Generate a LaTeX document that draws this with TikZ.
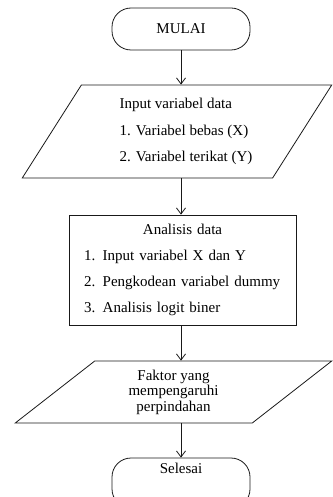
\documentclass[tikz,border=0pt]{standalone}
\usepackage{fontspec}
\setmainfont{Liberation Serif}
\usetikzlibrary{shapes.geometric, arrows.meta, positioning}
\definecolor{mydark}{RGB}{25,25,25}
\tikzset{
  terminal/.style={rectangle, draw=mydark, rounded corners=19pt,
    minimum width=138pt, line width=0.8pt,
    font=\fontsize{15}{18}\selectfont},
  iobox/.style={trapezium, trapezium stretches=true, draw=mydark,
    line width=0.8pt, inner sep=0pt},
  procbox/.style={rectangle, draw=mydark, line width=0.8pt,
    minimum width=227pt, minimum height=110pt, inner xsep=15pt,
    text width=197pt, font=\fontsize{15}{26}\selectfont},
  arrow/.style={-{Straight Barb[length=6pt,width=9pt]}, line width=0.8pt, color=mydark}
}
\begin{document}
\begin{tikzpicture}[x=1pt, y=-1pt]
  \useasboundingbox (0,0) rectangle (332,497);
  \node[terminal, minimum height=42pt] (mulai) at (181,29) {MULAI};
  \node[iobox, trapezium left angle=55, trapezium right angle=125,
    minimum width=310pt, minimum height=93pt, align=left,
    font=\fontsize{15}{26.5}\selectfont] (input) at (177,131.5)
    {\hspace*{18pt}Input variabel data\\\hspace*{18pt}1. Variabel bebas (X)\\\hspace*{18pt}2. Variabel terikat (Y)};
  \node[procbox] (analisis) at (182.5,270)
    {{\centering Analisis data\par}\raggedright
     1. Input variabel X dan Y\\2. Pengkodean variabel dummy\\3. Analisis logit biner};
  \node[iobox, trapezium left angle=44.5, trapezium right angle=135.5,
    minimum width=317pt, minimum height=62pt, align=center,
    font=\fontsize{15}{15.5}\selectfont] (faktor) at (173.5,392)
    {Faktor yang\\mempengaruhi\\perpindahan};
  \node[terminal, minimum height=50pt, text height=10pt, text depth=30pt] (selesai) at (181,483) {Selesai};
  \draw[arrow] (mulai.south) -- (mulai.south |- input.north);
  \draw[arrow] (mulai.south |- input.south) -- (mulai.south |- analisis.north);
  \draw[arrow] (mulai.south |- analisis.south) -- (mulai.south |- faktor.north);
  \draw[arrow] (selesai.north |- faktor.south) -- (selesai.north);
\end{tikzpicture}
\end{document}
